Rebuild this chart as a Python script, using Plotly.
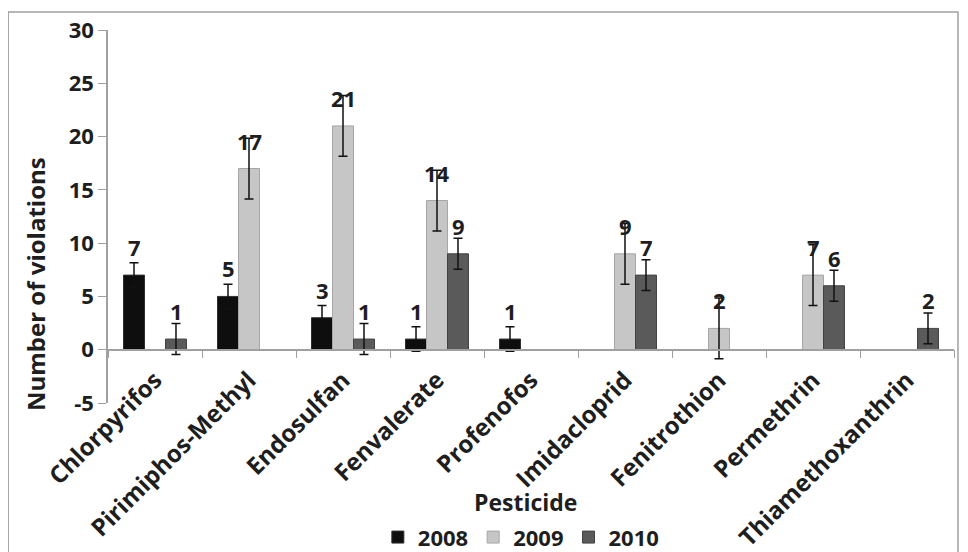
import plotly.graph_objects as go

pesticides = ["Chlorpyrifos", "Pirimiphos-Methyl", "Endosulfan", "Fenvalerate",
              "Profenofos", "Imidacloprid", "Fenitrothion", "Permethrin",
              "Thiamethoxanthrin"]
years = ["2008", "2009", "2010"]
v2008 = [7, 5, 3, 1, 1, None, None, None, None]
v2009 = [None, 17, 21, 14, None, 9, 2, 7, None]
v2010 = [1, None, 1, 9, None, 7, None, 6, 2]
errors = [1.15, 2.85, 1.45]
y_ticks = [-5, 0, 5, 10, 15, 20, 25, 30]
y_ticktext = ["-5", "0", "5", "10", "15", "20", "25", "30"]

FONT = "Open Sans"
TXT = "#1e1e1e"
colors = ["#0e0e0e", "#c6c6c6", "#5a5a5a"]
edges = ["#2e2e2e", "#a6a6a6", "#424242"]
shifts = [-21, 0, 21]

fig = go.Figure()
for name, vals, err, col, edge, dx in zip(years, [v2008, v2009, v2010], errors,
                                          colors, edges, shifts):
    fig.add_trace(go.Bar(
        x=pesticides, y=vals, name=name,
        marker=dict(color=col, line=dict(color=edge, width=1)),
        error_y=dict(type="constant", value=err, color="#111111",
                     thickness=1.5, width=4.5),
    ))
    # value labels, floating a little above each bar top
    for cat, v in zip(pesticides, vals):
        if v is None:
            continue
        fig.add_annotation(x=cat, y=v, text=str(v), showarrow=False,
                           xshift=dx, yshift=11, yanchor="bottom",
                           font=dict(family=FONT, size=22, color=TXT,
                                     weight="bold"))

# page body adds an 8px offset, so the figure is 8px smaller each way
fig.update_layout(
    width=960, height=544,
    plot_bgcolor="white", paper_bgcolor="white",
    margin=dict(l=100, r=14, t=22, b=149, autoexpand=False),
    barmode="group", bargap=0.33, bargroupgap=0,
    font=dict(family=FONT, color=TXT),
    showlegend=True,
    legend=dict(orientation="h", x=0.488, xanchor="center", y=-0.36,
                yanchor="middle", font=dict(size=22, weight="bold"),
                itemwidth=30, traceorder="normal"),
)
fig.update_yaxes(range=[-5, 30], tickvals=y_ticks, ticktext=y_ticktext,
                 showgrid=False, zeroline=False,
                 showline=True, linecolor="#a0a0a0", linewidth=1.5,
                 ticks="outside", ticklen=8, tickcolor="#a0a0a0",
                 automargin=False,
                 tickfont=dict(size=22, weight="bold"))
fig.update_xaxes(anchor="free", position=5 / 35, showgrid=False,
                 showline=True, linecolor="#a0a0a0", linewidth=1.5,
                 ticks="outside", ticklen=8, tickcolor="#a0a0a0",
                 tickson="boundaries", tickangle=-45, automargin=False,
                 ticklabelstandoff=6,
                 tickfont=dict(size=24, weight="bold"))

fig.add_annotation(text="Number of violations", xref="paper", yref="paper",
                   x=-0.0863, y=0.319, xanchor="center", yanchor="middle",
                   textangle=-90, showarrow=False,
                   font=dict(size=24, weight="bold"))
fig.add_annotation(text="Pesticide", xref="paper", yref="paper",
                   x=0.494, y=-0.265, xanchor="center", yanchor="middle",
                   showarrow=False, font=dict(size=23, weight="bold"))

fig.add_shape(type="rect", xref="paper", yref="paper",
              x0=-0.118, x1=1.0047, y0=-0.45, y1=1.048,
              line=dict(color="#a0a0a0", width=1.5), layer="below")

fig.write_html("out.html")
